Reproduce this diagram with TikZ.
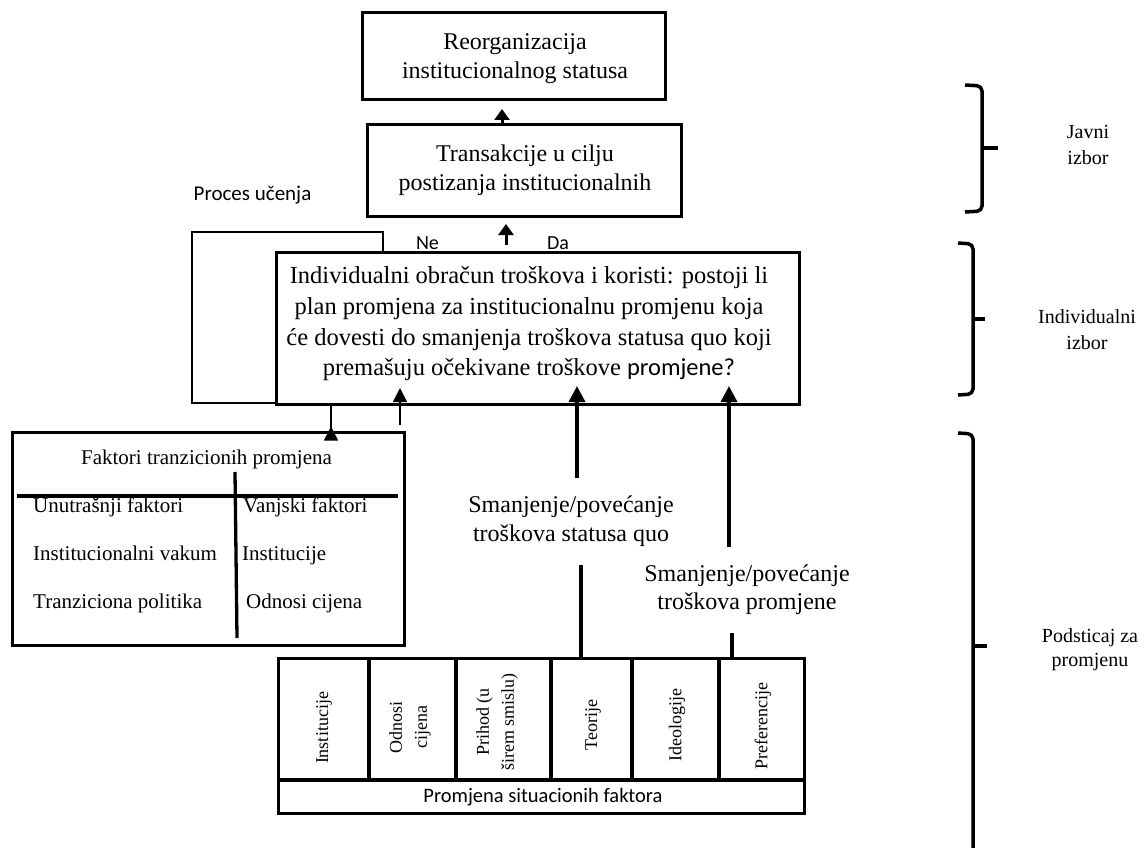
\documentclass[tikz,border=0pt]{standalone}
\usepackage{fontspec}
\setmainfont{Liberation Serif}
\newfontfamily\calfont{Carlito}
\usetikzlibrary{arrows.meta}
\begin{document}
\begin{tikzpicture}[x=1pt,y=-1pt,
  box/.style={draw,line width=3pt,inner sep=0pt},
  txt/.style={inner sep=0pt,align=center},
  bigr/.style={font=\fontsize{24}{28.4}\selectfont},
  bigt/.style={font=\fontsize{24}{29}\selectfont},
  bigmain/.style={font=\fontsize{24.5}{30.7}\selectfont},
  mid/.style={font=\fontsize{21}{24}\selectfont},
  lbl/.style={font=\fontsize{24}{28.5}\selectfont},
  side/.style={font=\fontsize{20}{26}\selectfont},
  sans/.style={font=\calfont\fontsize{20}{24}\selectfont},
  rot/.style={font=\fontsize{18}{25}\selectfont,rotate=90,inner sep=0pt,align=center},
  heavyarrow/.style={line width=3.3pt,-{Triangle[width=16pt,length=16pt]}},
  smallarrow/.style={line width=3pt,-{Triangle[width=15pt,length=11pt]}},
  thinarrow/.style={line width=1.5pt,-{Triangle[width=14pt,length=14pt]}},
  heavyline/.style={line width=3.3pt},
  thinline/.style={line width=1.3pt},
  brace/.style={line width=3.5pt,rounded corners=5pt},
]
\useasboundingbox (0,0) rectangle (1146,848);

% boxes
\node[box,minimum width=303pt,minimum height=87pt] (reorg) at (513.5,56.5) {};
\node[txt,bigr] (reorgt) at (515,58.5) {Reorganizacija\\institucionalnog statusa};

\node[box,minimum width=314pt,minimum height=91pt] (trans) at (524,170.5) {};
\node[txt,bigt] (transt) at (525,170) {Transakcije u cilju\\postizanja institucionalnih};

\node[box,minimum width=523pt,minimum height=152pt] (main) at (537.5,328) {};
\node[txt,bigmain] (maint) at (529,324) {Individualni obračun troškova i koristi: postoji li\\
plan promjena za institucionalnu promjenu koja\\
će dovesti do smanjenja troškova statusa quo koji\\
premašuju očekivane troškove {\calfont promjene?}};

\node[box,minimum width=392pt,minimum height=213pt] (fakt) at (208,538.5) {};
\node[txt,mid,anchor=base] (faktt) at (206.5,464) {Faktori tranzicionih promjena};
\node[txt,mid,anchor=base west] (u1) at (33,512) {Unutrašnji faktori};
\node[txt,mid,anchor=base west] (u2) at (33,560) {Institucionalni vakum};
\node[txt,mid,anchor=base west] (u3) at (33,608) {Tranziciona politika};
\node[txt,mid,anchor=base west] (v1) at (243,512) {Vanjski faktori};
\node[txt,mid,anchor=base west] (v2) at (242,560) {Institucije};
\node[txt,mid,anchor=base west] (v3) at (246,608) {Odnosi cijena};
\draw[heavyline] (17,496) -- (398,496);
\draw[heavyline] (235,472) -- (237,638);

\node[box,minimum width=526pt,minimum height=155pt] (sit) at (541,735.5) {};
\draw[heavyline] (278,780) -- (804,780);
\foreach \cx in {369,456,551,632,719}{\draw[heavyline] (\cx,658) -- (\cx,780);}
\node[rot] (c1) at (324,728) {Institucije};
\node[rot] (c2) at (410,727) {Odnosi\\cijena};
\node[rot] (c3) at (497,722) {Prihod (u\\širem smislu)};
\node[rot] (c4) at (593,725) {Teorije};
\node[rot] (c5) at (677,725) {Ideologije};
\node[rot] (c6) at (763,726) {Preferencije};
\node[txt,font=\calfont\fontsize{20.5}{24}\selectfont] (sitt) at (543,797) {Promjena situacionih faktora};

% labels
\node[txt,font=\calfont\fontsize{21}{25}\selectfont] (proces) at (252.5,195) {Proces učenja};
\node[txt,sans] (ne) at (427.5,243.5) {Ne};
\node[txt,sans] (da) at (558,243.5) {Da};
\node[txt,lbl] (sm1) at (571,521) {Smanjenje/povećanje\\troškova statusa quo};
\node[txt,lbl] (sm2) at (747,589.5) {Smanjenje/povećanje\\troškova promjene};

% arrows
\draw[smallarrow] (trans.north -| 502,0) -- (502,109);
\draw[smallarrow] (main.north -| 506,0) ++(0,-6) -- (506,224);
\draw[thinline] (main.south west |- 0,403) -- (192,403) -- (192,232) -- (383,232) -- (383,252);
\draw[thinarrow] (331,404) -- (fakt.north -| 331,0) ++(0,-4);
\draw[thinarrow] (400,425) -- (400,388);
\draw[heavyarrow] (577,478) -- (577,386);
\draw[heavyline] (581,565) -- (sit.north -| 581,0);
\draw[heavyarrow] (729,547) -- (729,386);
\draw[heavyline] (732,633) -- (sit.north -| 732,0);

% braces
\draw[brace] (965,85) -- (982,86) -- (982,211) -- (965,212);
\draw[line width=3.5pt] (982,148) -- (998,148);
\node[txt,side] (javni) at (1088,145) {Javni\\izbor};

\draw[brace] (958,243) -- (973,244) -- (973,394) -- (958,395);
\draw[line width=3.5pt] (973,319) -- (985,319);
\node[txt,side] (indiv) at (1087,330) {Individualni\\izbor};

\draw[brace] (958,433) -- (973,434) -- (973,870);
\draw[line width=3.5pt] (973,646) -- (987,646);
\node[txt,font=\fontsize{20}{24}\selectfont,align=center,inner sep=0pt] (podst) at (1090,650) {Podsticaj za\\promjenu};
\end{tikzpicture}
\end{document}
